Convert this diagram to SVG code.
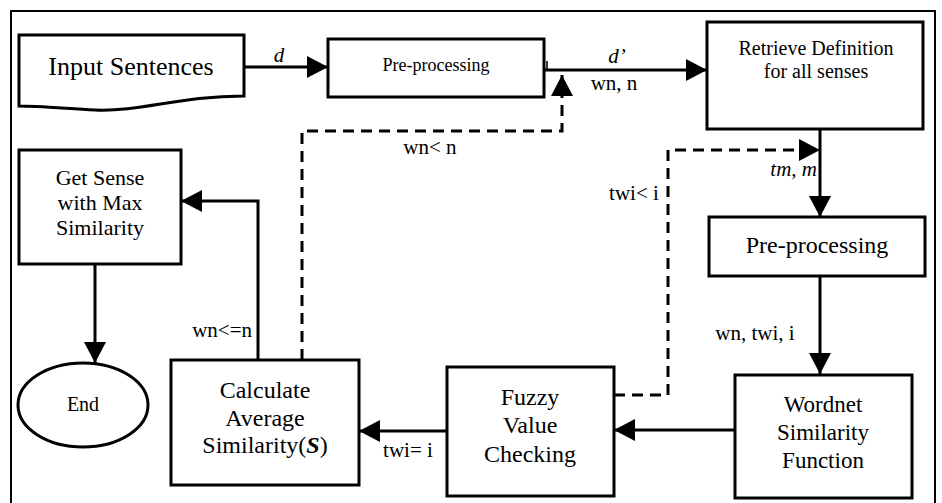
<svg xmlns="http://www.w3.org/2000/svg" width="942" height="503" viewBox="0 0 942 503">
<style>
.t{font-family:'Liberation Serif','Times New Roman','DejaVu Serif',serif;fill:#000;text-anchor:middle}
.box{fill:#fff;stroke:#000;stroke-width:3}
.ln{fill:none;stroke:#000;stroke-width:3}
.dash{fill:none;stroke:#000;stroke-width:3;stroke-dasharray:11 7}
.it{font-style:italic}
.end{text-anchor:end}
</style>
<defs>
<marker id="ah" markerUnits="userSpaceOnUse" markerWidth="21" markerHeight="22" refX="21" refY="11" orient="auto">
<path d="M0,0 L21,11 L0,22 z" fill="#000"/>
</marker>
</defs>
<rect x="0" y="0" width="942" height="503" fill="#fff"/>
<path d="M11,503 V11 H935 V503" fill="none" stroke="#000" stroke-width="2"/>

<g id="connectors" class="t" font-family="Liberation Serif, serif">
<path class="ln" d="M244,67 H328" marker-end="url(#ah)"/>
<path class="ln" d="M544,70 H707" marker-end="url(#ah)"/>
<path d="M547,61 V71" stroke="#000" stroke-width="1.5"/>
<path class="ln" d="M820,129 V217" marker-end="url(#ah)"/>
<path class="ln" d="M820,276 V374" marker-end="url(#ah)"/>
<path class="ln" d="M735,430 H614" marker-end="url(#ah)"/>
<path class="ln" d="M447,431 H359" marker-end="url(#ah)"/>
<path class="ln" d="M258,360 V201 H181" marker-end="url(#ah)"/>
<path class="ln" d="M95,264 V363" marker-end="url(#ah)"/>
<path class="dash" d="M302,360 V131 H562 V75" marker-end="url(#ah)"/>
<path class="dash" d="M614,395 H668 V150 H820" marker-end="url(#ah)"/>
<text class="it" x="279" y="62" font-size="21">d</text>
<text class="it" x="617" y="63" font-size="21">d’</text>
<text x="614" y="90" font-size="21">wn, n</text>
<text x="430" y="154" font-size="21">wn&lt; n</text>
<text class="it end" x="817" y="176" font-size="21">tm, m</text>
<text x="634" y="200" font-size="21">twi&lt; i</text>
<text x="755" y="340" font-size="21">wn, twi, i</text>
<text class="end" x="252" y="337" font-size="21">wn&lt;=n</text>
<text x="408" y="457" font-size="21">twi= i</text>
</g>

<g id="input" class="t" font-family="Liberation Serif, serif">
<path class="box" d="M19,35 H244 V96 C180,96 140,112 95,110 C60,108 35,106 19,106 Z"/>
<text x="131" y="75" font-size="26">Input Sentences</text>
</g>
<g id="preproc1" class="t" font-family="Liberation Serif, serif">
<rect class="box" x="328" y="39" width="216" height="58"/>
<text x="436" y="71" font-size="18">Pre-processing</text>
</g>
<g id="retrieve" class="t" font-family="Liberation Serif, serif">
<rect class="box" x="707" y="22" width="216" height="107"/>
<text x="816" y="55" font-size="20">Retrieve Definition</text>
<text x="816" y="78" font-size="20">for all senses</text>
</g>
<g id="preproc2" class="t" font-family="Liberation Serif, serif">
<rect class="box" x="709" y="217" width="216" height="59"/>
<text x="817" y="253" font-size="24">Pre-processing</text>
</g>
<g id="wordnet" class="t" font-family="Liberation Serif, serif">
<rect class="box" x="735" y="375" width="177" height="123"/>
<text x="823" y="412" font-size="23">Wordnet</text>
<text x="823" y="440" font-size="23">Similarity</text>
<text x="823" y="468" font-size="23">Function</text>
</g>
<g id="fuzzy" class="t" font-family="Liberation Serif, serif">
<rect class="box" x="447" y="367" width="167" height="129"/>
<text x="530" y="405" font-size="24">Fuzzy</text>
<text x="530" y="433" font-size="24">Value</text>
<text x="530" y="462" font-size="24">Checking</text>
</g>
<g id="calculate" class="t" font-family="Liberation Serif, serif">
<rect class="box" x="171" y="360" width="188" height="125"/>
<text x="265" y="398" font-size="24">Calculate</text>
<text x="265" y="426" font-size="24">Average</text>
<text x="265" y="453" font-size="24">Similarity(<tspan font-weight="bold" font-style="italic">S</tspan>)</text>
</g>
<g id="getsense" class="t" font-family="Liberation Serif, serif">
<rect class="box" x="19" y="150" width="162" height="114"/>
<text x="100" y="185" font-size="22">Get Sense</text>
<text x="100" y="210" font-size="22">with Max</text>
<text x="100" y="235" font-size="22">Similarity</text>
</g>
<g id="end" class="t" font-family="Liberation Serif, serif">
<ellipse cx="83" cy="405" rx="65" ry="42" fill="#fff" stroke="#000" stroke-width="3"/>
<text x="83" y="411" font-size="20">End</text>
</g>
</svg>
